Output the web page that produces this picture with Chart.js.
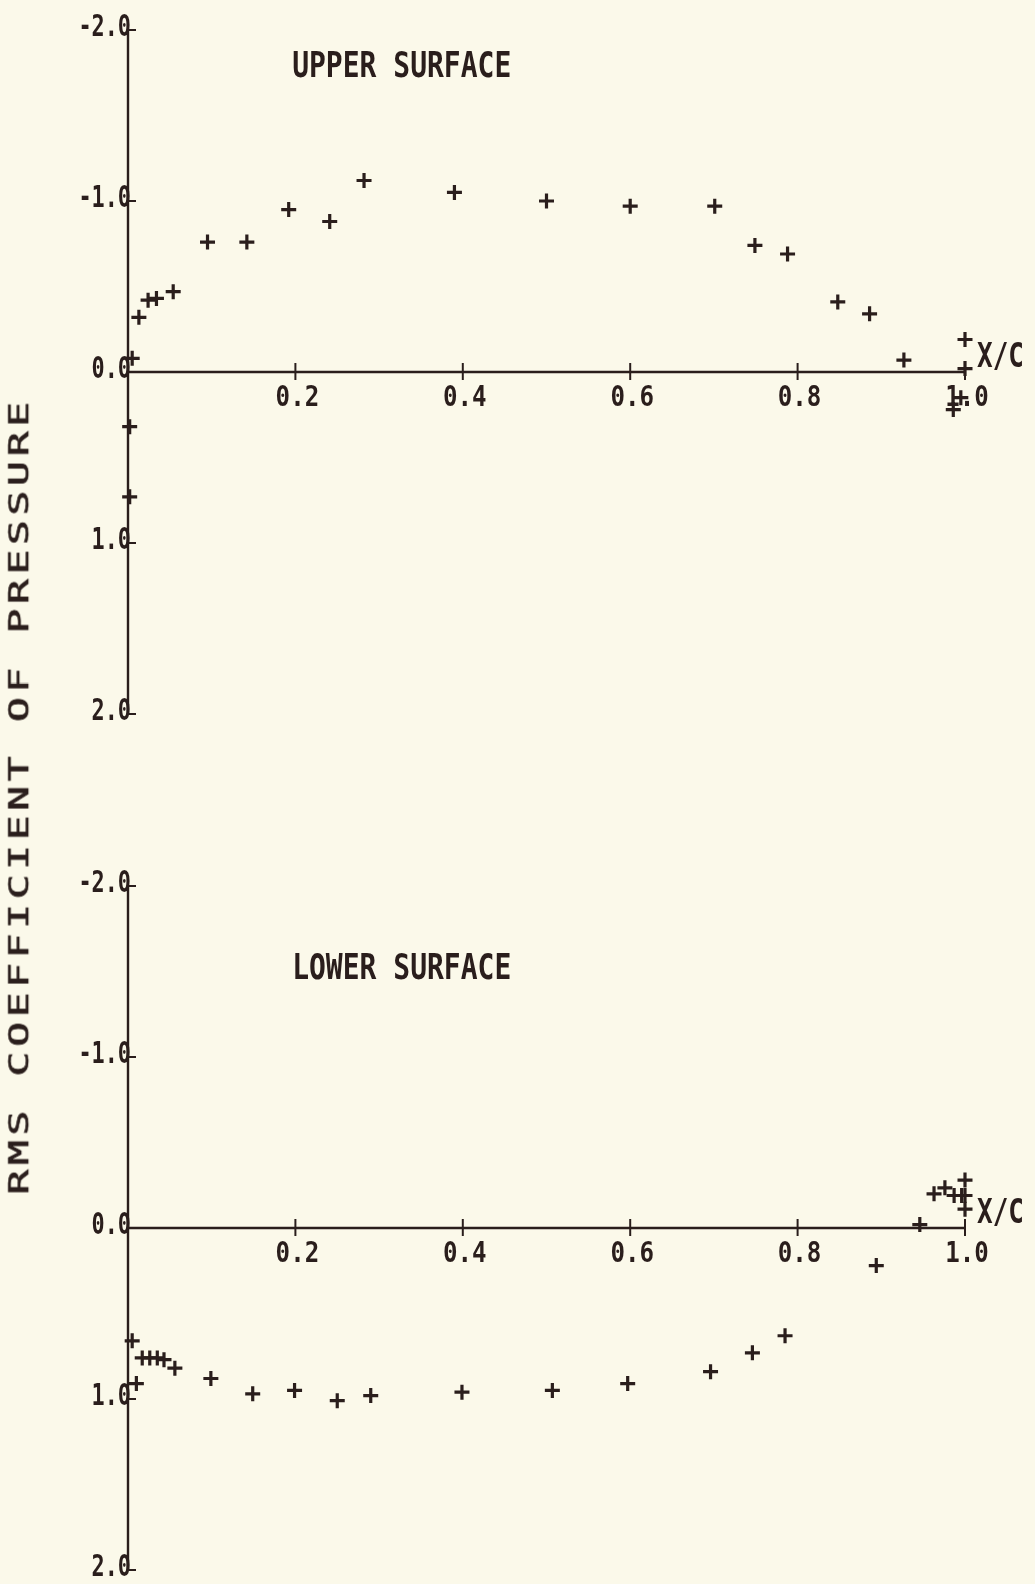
<!DOCTYPE html>
<html>
<head>
<meta charset="utf-8">
<script src="https://cdn.jsdelivr.net/npm/chart.js@4.4.1/dist/chart.umd.min.js"></script>
<style>
    html, body {
        margin: 0;
        padding: 0;
        background: #fbf9ea;
    }

    #page {
        position: relative;
        width: 1035px;
        height: 1584px;
        overflow: hidden;
    }

    canvas {
        position: absolute;
        left: 0;
    }

    #upperChart { top: 0; }
    #lowerChart { top: 790px; }

    #yTitle {
        position: absolute;
        left: 19px;
        top: 796px;
        transform: translate(-50%, -50%) rotate(-90deg) scale(1.6, 1.05);
        font: 26px "DejaVu Sans Mono", monospace;
        -webkit-text-stroke: 0.6px #2a1e1c;
        letter-spacing: 2.8px;
        color: #2a1e1c;
        white-space: nowrap;
    }
</style>
</head>
<body>

<div id="page">
    <canvas id="upperChart" width="1035" height="790"></canvas>
    <canvas id="lowerChart" width="1035" height="794"></canvas>
    <div id="yTitle">RMS COEFFICIENT OF PRESSURE</div>
</div>

<script>

// ==========================
// DATOS
// ==========================

const xTicks = [0.2, 0.4, 0.6, 0.8, 1.0];
const yTicks = [-2.0, -1.0, 0.0, 1.0, 2.0];

// superficie superior
const upperX = [
    0.005, 0.002, 0.002, 0.013, 0.024, 0.034, 0.054, 0.095, 0.142,
    0.192, 0.241, 0.282, 0.390, 0.500, 0.600, 0.701, 0.749, 0.788,
    0.848, 0.886, 0.927, 1.000, 1.000, 0.995, 0.986
];
const upperY = [
    -0.08, 0.32, 0.73, -0.32, -0.42, -0.43, -0.47, -0.76, -0.76,
    -0.95, -0.88, -1.12, -1.05, -1.00, -0.97, -0.97, -0.74, -0.69,
    -0.41, -0.34, -0.07, -0.19, -0.02, 0.15, 0.22
];

// superficie inferior
const lowerX = [
    0.005, 0.010, 0.017, 0.026, 0.035, 0.043, 0.056, 0.099, 0.149,
    0.199, 0.250, 0.290, 0.399, 0.507, 0.597, 0.696, 0.746, 0.785,
    0.894, 0.946, 0.963, 0.976, 0.987, 0.996, 1.000, 1.000, 1.000
];
const lowerY = [
    0.66, 0.91, 0.76, 0.76, 0.76, 0.77, 0.82, 0.88, 0.97,
    0.95, 1.01, 0.98, 0.96, 0.95, 0.91, 0.84, 0.73, 0.63,
    0.22, -0.02, -0.20, -0.235, -0.19, -0.19, -0.28, -0.19, -0.11
];

const ink = "#2a1e1c";


// ==========================
// TEXTO ESTIRADO (PLOTTER)
// ==========================

function plotterText(ctx, text, x, y, size, sx, sy, align, baseline) {

    ctx.save();
    ctx.translate(x, y);
    ctx.scale(sx, sy);
    ctx.font = "bold " + size + "px 'DejaVu Sans Mono', monospace";
    ctx.textAlign = align;
    ctx.textBaseline = baseline;
    ctx.fillStyle = ink;
    ctx.fillText(text, 0, 0);
    ctx.restore();

}


// ==========================
// EJES TIPO PLOTTER
// ==========================

const plotterAxes = {

    id: "plotterAxes",

    beforeDatasetsDraw(chart, args, opts) {

        const { ctx } = chart;
        const xs = chart.scales.x;
        const ys = chart.scales.y;

        const x0 = xs.getPixelForValue(0);
        const x1 = xs.getPixelForValue(1);
        const y0 = ys.getPixelForValue(0);

        ctx.save();
        ctx.strokeStyle = ink;
        ctx.lineWidth = 2.4;
        ctx.lineCap = "butt";

        // eje vertical
        ctx.beginPath();
        ctx.moveTo(x0, ys.getPixelForValue(yTicks[0]));
        ctx.lineTo(x0, ys.getPixelForValue(yTicks[yTicks.length - 1]));
        ctx.stroke();

        // eje horizontal
        ctx.beginPath();
        ctx.moveTo(x0, y0);
        ctx.lineTo(x1, y0);
        ctx.stroke();

        ctx.lineWidth = 2;

        yTicks.forEach(v => {
            const py = ys.getPixelForValue(v);
            ctx.beginPath();
            ctx.moveTo(x0, py);
            ctx.lineTo(x0 + 8, py);
            ctx.stroke();
        });

        xTicks.forEach(v => {
            const px = xs.getPixelForValue(v);
            ctx.beginPath();
            ctx.moveTo(px, y0 - 9);
            ctx.lineTo(px, y0 + 8);
            ctx.stroke();
        });

        ctx.restore();

    },

    afterDraw(chart, args, opts) {

        const { ctx } = chart;
        const xs = chart.scales.x;
        const ys = chart.scales.y;

        const x0 = xs.getPixelForValue(0);
        const x1 = xs.getPixelForValue(1);
        const y0 = ys.getPixelForValue(0);

        yTicks.forEach(v => {
            plotterText(
                ctx, v.toFixed(1),
                x0 + 3, ys.getPixelForValue(v) + 6,
                23, 0.95, 1.3, "right", "alphabetic"
            );
        });

        xTicks.forEach(v => {
            plotterText(
                ctx, v.toFixed(1),
                xs.getPixelForValue(v) + 2, y0 + 12,
                23, 1.05, 1.25, "center", "top"
            );
        });

        plotterText(ctx, "X/C", x1 + 12, y0 + 3, 26, 1.0, 1.3, "left", "bottom");

        plotterText(
            ctx, opts.title,
            xs.getPixelForValue(opts.titleX), ys.getPixelForValue(opts.titleY),
            28, 1.0, 1.25, "center", "middle"
        );

    }

};


// ==========================
// GRAFICO DE DISPERSION
// ==========================

function surfaceChart(canvasId, xs, ys, title, titleY, padding) {

    const canvas = document.getElementById(canvasId);

    return new Chart(canvas, {

        type: "scatter",

        data: {
            datasets: [
                {
                    data: xs.map((x, i) => ({ x: x, y: ys[i] })),
                    pointStyle: "cross",
                    pointRadius: 7.5,
                    pointHoverRadius: 7.5,
                    borderColor: ink,
                    borderWidth: 3.2,
                    clip: false
                }
            ]
        },

        options: {

            responsive: false,
            animation: false,
            devicePixelRatio: 1,

            layout: {
                padding: padding
            },

            plugins: {
                legend: { display: false },
                tooltip: { enabled: false },
                plotterAxes: {
                    title: title,
                    titleX: 0.327,
                    titleY: titleY
                }
            },

            scales: {
                x: {
                    type: "linear",
                    min: 0,
                    max: 1,
                    display: false
                },
                y: {
                    type: "linear",
                    min: -2,
                    max: 2,
                    reverse: true,
                    display: false
                }
            }

        },

        plugins: [plotterAxes]

    });

}

surfaceChart(
    "upperChart", upperX, upperY, "UPPER SURFACE", -1.78,
    { left: 128, right: 70, top: 30, bottom: 76 }
);

surfaceChart(
    "lowerChart", lowerX, lowerY, "LOWER SURFACE", -1.51,
    { left: 128, right: 70, top: 96, bottom: 14 }
);

</script>
</body>
</html>
